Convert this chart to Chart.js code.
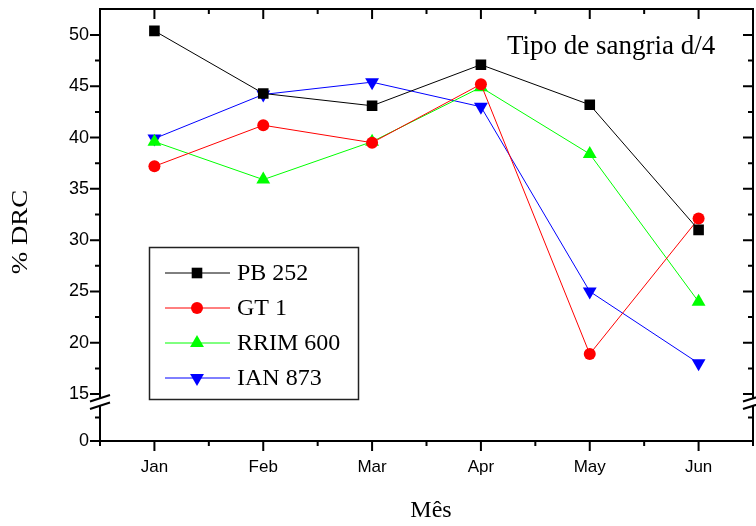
<!DOCTYPE html>
<html>
<head>
<meta charset="utf-8">
<script src="https://cdn.jsdelivr.net/npm/chart.js@4.4.1/dist/chart.umd.min.js"></script>
<style>
  html, body { margin: 0; padding: 0; background: #fff; }
  #wrap { width: 756px; height: 526px; }
</style>
</head>
<body>
<div id="wrap"><canvas id="drcChart" width="756" height="526"></canvas></div>
<script>
const months = ['Jan', 'Feb', 'Mar', 'Apr', 'May', 'Jun'];
const pb252 = [50.4, 44.3, 43.1, 47.1, 43.2, 31.0];
const gt1 = [37.2, 41.2, 39.5, 45.2, 18.9, 32.1];
const rrim600 = [39.6, 35.9, 39.6, 44.9, 38.4, 24.0];
const ian873 = [39.9, 44.2, 45.4, 43.0, 25.0, 18.0];
const yTickLabels = [0, 15, 20, 25, 30, 35, 40, 45, 50];

// broken y axis: everything below 15 is squeezed into a short stub
const BREAK_AT = 15;
const SQUEEZE = 0.305;
const toAxis = v => (v >= BREAK_AT ? v : BREAK_AT - (BREAK_AT - v) * SQUEEZE);
const fromAxis = a => (a >= BREAK_AT - 1e-6 ? a : BREAK_AT - (BREAK_AT - a) / SQUEEZE);

const serif = '"Liberation Serif", "Times New Roman", serif';
const sans = '"Liberation Sans", Arial, sans-serif';

const frame = {
  id: 'frame',
  afterDraw(chart) {
    const { ctx, chartArea: a, scales } = chart;
    const x = scales.x, y = scales.y;
    ctx.save();
    ctx.strokeStyle = '#000';
    ctx.lineWidth = 2;
    ctx.beginPath();
    ctx.rect(a.left, a.top, a.right - a.left, a.bottom - a.top);
    ctx.stroke();

    const tick = (x1, y1, x2, y2) => { ctx.moveTo(x1, y1); ctx.lineTo(x2, y2); };
    ctx.beginPath();
    // x ticks: major at each month, minor half way between
    const step = x.getPixelForValue(1) - x.getPixelForValue(0);
    for (let j = 0; j <= months.length * 2; j++) {
      const px = a.left + j * step / 2;
      const len = j % 2 ? 10 : 5;
      tick(px, a.bottom, px, a.bottom + len);
      tick(px, a.top, px, a.top + len);
    }
    // y ticks
    const major = yTickLabels.map(toAxis);
    const minor = [toAxis(7.5)];
    for (let v = 17.5; v < 53; v += 5) minor.push(v);
    major.forEach(v => {
      const py = y.getPixelForValue(v);
      tick(a.left - 10, py, a.left, py);
      tick(a.right - 10, py, a.right, py);
    });
    minor.forEach(v => {
      const py = y.getPixelForValue(v);
      if (py < a.top + 1) return;
      tick(a.left - 5, py, a.left, py);
      tick(a.right - 5, py, a.right, py);
    });
    ctx.stroke();

    // axis break marks
    const by = y.getPixelForValue(BREAK_AT) + 7;
    [a.left, a.right].forEach(bx => {
      ctx.fillStyle = '#fff';
      ctx.beginPath();
      ctx.moveTo(bx - 10, by + 0.5);
      ctx.lineTo(bx + 10, by - 6);
      ctx.lineTo(bx + 10, by + 1.5);
      ctx.lineTo(bx - 10, by + 8);
      ctx.closePath();
      ctx.fill();
      ctx.beginPath();
      tick(bx - 10, by + 0.5, bx + 10, by - 6);
      tick(bx - 10, by + 8, bx + 10, by + 1.5);
      ctx.stroke();
    });

    // titles
    ctx.fillStyle = '#000';
    ctx.textAlign = 'center';
    ctx.textBaseline = 'middle';
    ctx.font = '24px ' + serif;
    ctx.fillText('Mês', 431, 511);
    ctx.save();
    ctx.translate(21, 232);
    ctx.rotate(-Math.PI / 2);
    ctx.scale(1.12, 1);
    ctx.font = '24px ' + serif;
    ctx.fillText('% DRC', 0, 0);
    ctx.restore();
    ctx.textAlign = 'left';
    ctx.font = '27px ' + serif;
    ctx.fillText('Tipo de sangria d/4', 507, 47);

    // legend box
    ctx.lineWidth = 1.5;
    ctx.strokeStyle = '#222';
    ctx.strokeRect(149.5, 247.5, 209, 152);
    ctx.font = '24px ' + serif;
    chart.data.datasets.forEach((ds, i) => {
      const ly = 273 + i * 35;
      ctx.strokeStyle = ds.borderColor;
      ctx.lineWidth = 1;
      ctx.beginPath();
      ctx.moveTo(165, ly);
      ctx.lineTo(230, ly);
      ctx.stroke();
      ctx.fillStyle = ds.backgroundColor;
      Chart.helpers.drawPoint(ctx, {
        pointStyle: ds.pointStyle,
        rotation: ds.pointRotation || 0,
        radius: ds.pointRadius,
        borderWidth: 0
      }, 197, ly);
      ctx.fillStyle = '#000';
      ctx.fillText(ds.label, 237, ly + 1);
    });
    ctx.restore();
  }
};

function series(label, data, color, style, radius, rotation) {
  return {
    label: label,
    data: data,
    borderColor: color,
    backgroundColor: color,
    borderWidth: 1,
    pointStyle: style,
    pointRadius: radius,
    pointHoverRadius: radius,
    pointRotation: rotation || 0,
    pointBorderWidth: 0,
    tension: 0
  };
}

new Chart(document.getElementById('drcChart').getContext('2d'), {
  type: 'line',
  data: {
    labels: months,
    datasets: [
      series('PB 252', pb252, '#000000', 'rect', 7.5),
      series('GT 1', gt1, '#ff0000', 'circle', 6),
      series('RRIM 600', rrim600, '#00ff00', 'triangle', 8),
      series('IAN 873', ian873, '#0000ff', 'triangle', 8, 180)
    ]
  },
  options: {
    responsive: false,
    animation: false,
    layout: { autoPadding: false, padding: { top: 9, right: 3, left: 0, bottom: 0 } },
    plugins: {
      legend: { display: false },
      tooltip: { enabled: false }
    },
    scales: {
      x: {
        offset: true,
        grid: { display: false, drawTicks: true, tickLength: 10 },
        border: { display: false },
        ticks: { color: '#000', font: { family: sans, size: 17 }, padding: 6 },
        afterFit(scale) {
          scale.height = 85;
          scale.paddingLeft = 0;
          scale.paddingRight = 0;
        }
      },
      y: {
        min: toAxis(0),
        max: 52.53,
        grid: { display: false, drawTicks: true, tickLength: 10 },
        border: { display: false },
        afterBuildTicks(scale) {
          scale.ticks = yTickLabels.map(v => ({ value: toAxis(v) }));
        },
        ticks: {
          color: '#000',
          font: { family: sans, size: 18 },
          padding: 1,
          callback: v => String(Math.round(fromAxis(v)))
        },
        afterFit(scale) {
          scale.width = 100;
          scale.paddingTop = 0;
          scale.paddingBottom = 0;
        }
      }
    }
  },
  plugins: [frame]
});
</script>
</body>
</html>
